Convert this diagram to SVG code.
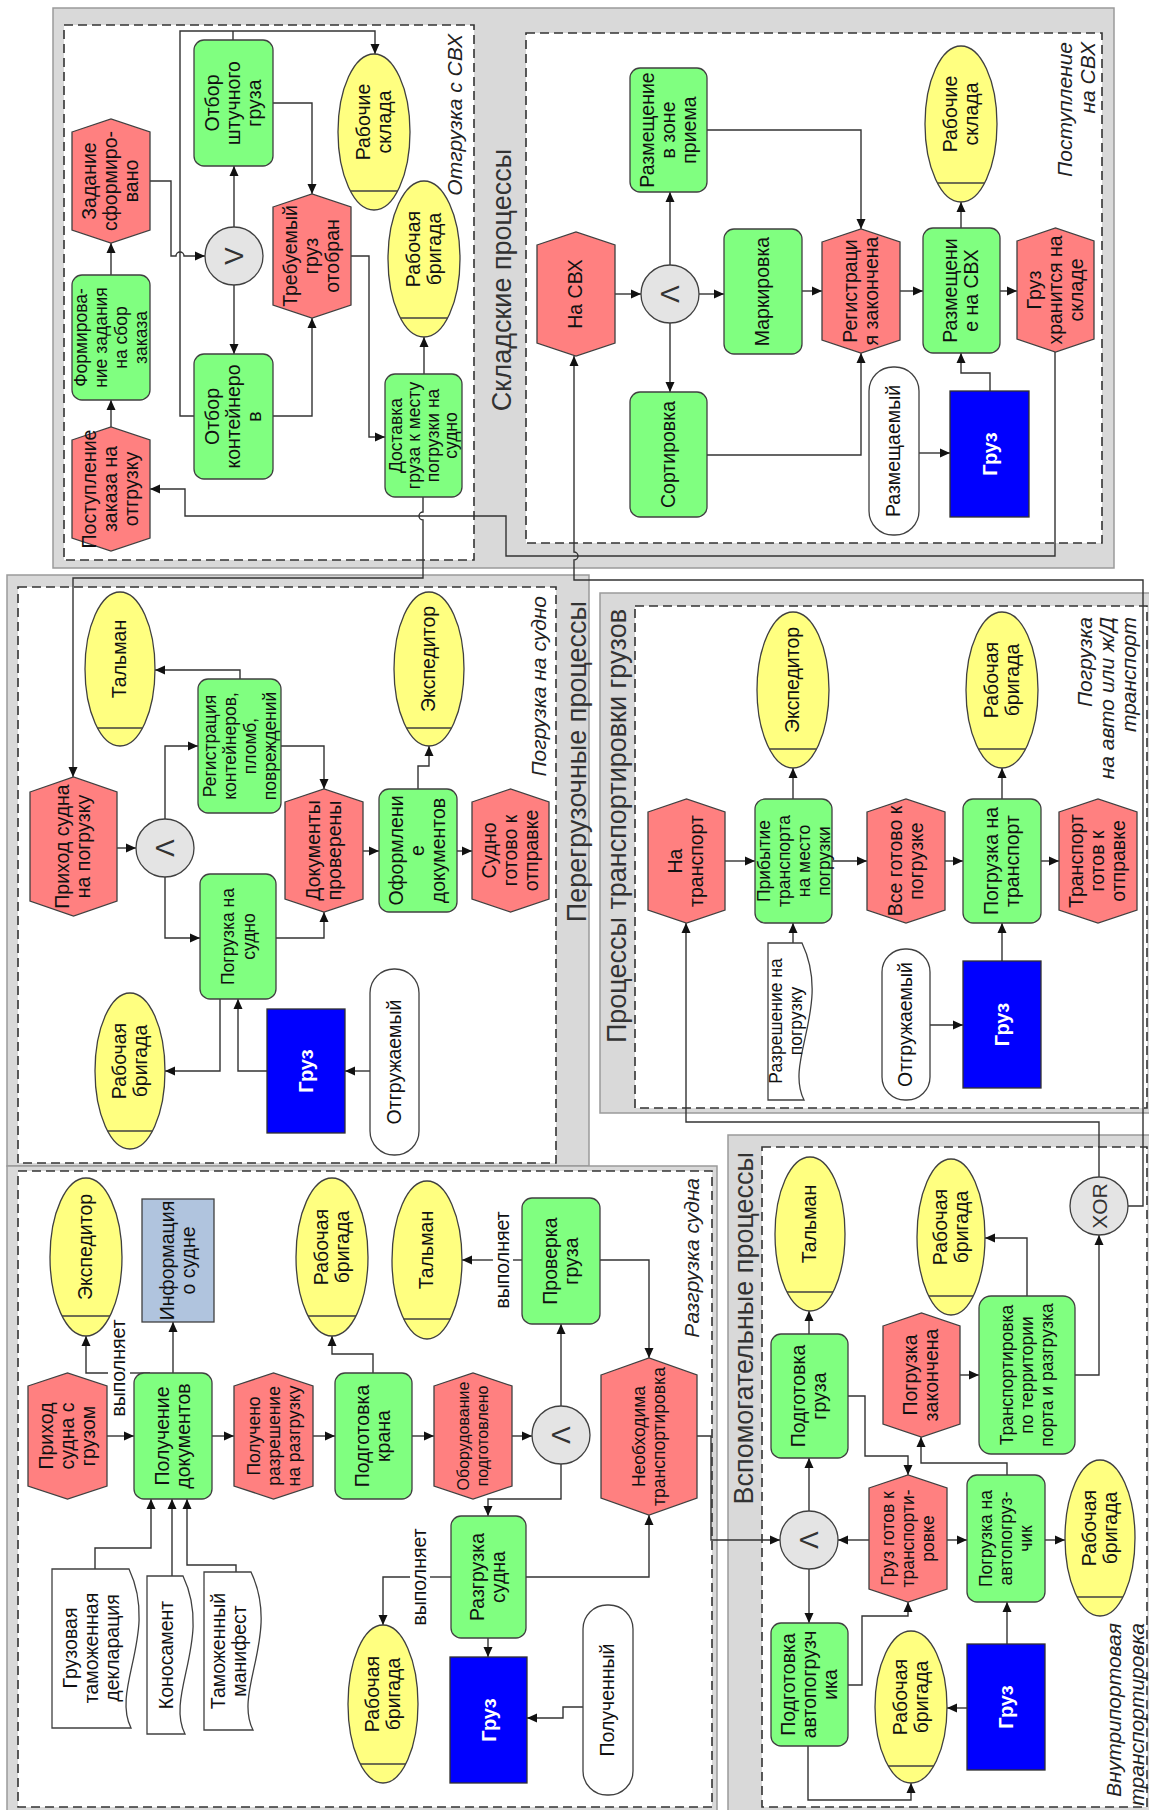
<svg xmlns="http://www.w3.org/2000/svg" width="1149" height="1810" viewBox="0 0 1149 1810">
<defs>
<marker id="a" viewBox="0 0 10 10" refX="10" refY="5" markerWidth="10" markerHeight="10" markerUnits="userSpaceOnUse" orient="auto"><path d="M0,0.5 L10,5 L0,9.5 z" fill="#111"/></marker>
<style>
.pool{fill:#D9D9D9;stroke:#9A9A9A;stroke-width:1.5}
.lane{fill:#fff;stroke:#333;stroke-width:1.6;stroke-dasharray:9 5}
.fn{fill:#80FF80;stroke:#404040;stroke-width:1.3}
.ev{fill:#FF8080;stroke:#404040;stroke-width:1.3}
.org{fill:#FFFF80;stroke:#404040;stroke-width:1.3}
.gate{fill:#E4E4E4;stroke:#404040;stroke-width:1.3}
.cargo{fill:#0000FF;stroke:#303030;stroke-width:1.3}
.info{fill:#B0C4DE;stroke:#404040;stroke-width:1.3}
.doc{fill:#fff;stroke:#404040;stroke-width:1.3}
.term{fill:#fff;stroke:#404040;stroke-width:1.3}
.ln{stroke:#404040;stroke-width:1.3}
.c{fill:none;stroke:#333;stroke-width:1.4}
.ca{fill:none;stroke:#333;stroke-width:1.4;marker-end:url(#a)}
text{font-family:"Liberation Sans",Arial,sans-serif;fill:#111;text-anchor:middle}
.t{font-size:19.5px}
.s{font-size:17.5px}
.xs{font-size:16px}
.w{fill:#fff;font-size:20px;font-weight:bold}
.g{font-size:26px;fill:#333}
.x{font-size:21px;fill:#333}
.title{font-size:27px;fill:#333}
.end{text-anchor:end}
.lab{font-size:21px;font-style:italic;fill:#222;text-anchor:end}
</style>
</defs>

<!-- pools and lanes -->
<g id="pools">
<rect class="pool" x="53" y="8" width="1061" height="560"/>
<rect class="lane" x="64" y="25" width="410" height="535"/>
<rect class="lane" x="526" y="33" width="576" height="510"/>
<text class="title" transform="translate(502,280) rotate(-90)" y="9">Складские процессы</text>
<text class="lab" transform="translate(455,34) rotate(-90)" y="7">Отгрузка с СВХ</text>
<text class="lab" transform="translate(1076,42) rotate(-90)"><tspan x="0" y="-4.5">Поступление</tspan><tspan x="0" y="19">на СВХ</tspan></text>

<rect class="pool" x="7" y="575" width="582" height="591"/>
<rect class="lane" x="18" y="587" width="538" height="576"/>
<text class="title end" transform="translate(577,601) rotate(-90)" y="9">Перегрузочные процессы</text>
<text class="lab" transform="translate(539,596) rotate(-90)" y="7">Погрузка на судно</text>

<rect class="pool" x="600" y="593" width="560" height="520"/>
<rect class="lane" x="635" y="606" width="512" height="502"/>
<text class="title end" transform="translate(617,609) rotate(-90)" y="9">Процессы транспортировки грузов</text>
<text class="lab" transform="translate(1107,617) rotate(-90)"><tspan x="0" y="-15">Погрузка</tspan><tspan x="0" y="7">на авто или ж/Д</tspan><tspan x="0" y="29">транспорт</tspan></text>

<rect class="pool" x="7" y="1166" width="710" height="655"/>
<rect class="lane" x="18" y="1171" width="694" height="636"/>
<text class="lab" transform="translate(692,1178) rotate(-90)" y="7">Разгрузка судна</text>

<rect class="pool" x="728" y="1135" width="432" height="690"/>
<rect class="lane" x="762" y="1147" width="385" height="660"/>
<text class="title end" transform="translate(744,1152) rotate(-90)" y="9">Вспомогательные процессы</text>
<text class="lab" transform="translate(1125,1623) rotate(-90)"><tspan x="0" y="-4.5">Внутрипортовая</tspan><tspan x="0" y="19">транспортировка</tspan></text>
</g>

<!-- connectors -->
<g id="connectors">
<path class="ca" d="M111,427 V400"/>
<path class="ca" d="M111,275 V243"/>
<path class="ca" d="M150,181 H171 V256 H176 A4,4 0 0 1 184,256 H205"/>
<path class="ca" d="M194,416 H180 V31 H375 V54"/>
<path class="c" d="M233,40 V31"/>
<path class="ca" d="M234,227 V166"/>
<path class="ca" d="M234,285 V354"/>
<path class="ca" d="M273,103 H312 V194"/>
<path class="ca" d="M273,416 H312 V318"/>
<path class="ca" d="M351,256 H369 V437 H385"/>
<path class="ca" d="M424,374 V337"/>
<path class="ca" d="M423,497 V512 A4,4 0 0 0 423,520 V578 H73 V777"/>
<path class="ca" d="M1055,352 V556 H506 V516 H185 V489 H150"/>
<path class="ca" d="M1128,1206 H1143 V580 H574 V560 A4,4 0 0 0 574,552 V356"/>
<path class="ca" d="M615,294 H641"/>
<path class="ca" d="M670,265 V192"/>
<path class="ca" d="M670,323 V392"/>
<path class="ca" d="M699,294 H724"/>
<path class="ca" d="M802,291 H822"/>
<path class="ca" d="M707,130 H861 V229"/>
<path class="ca" d="M707,455 H861 V353"/>
<path class="ca" d="M900,291 H923"/>
<path class="ca" d="M961,228 V202"/>
<path class="ca" d="M1000,291 H1017"/>
<path class="ca" d="M990,391 V373 H961 V353"/>
<path class="ca" d="M919,453 H950"/>

<path class="ca" d="M117,848 H136"/>
<path class="ca" d="M165,819 V746 H198"/>
<path class="ca" d="M165,877 V938 H200"/>
<path class="ca" d="M281,746 H324 V789"/>
<path class="ca" d="M276,938 H324 V912"/>
<path class="ca" d="M240,679 V670 H155"/>
<path class="ca" d="M363,851 H379"/>
<path class="ca" d="M457,851 H472"/>
<path class="ca" d="M418,789 V766 H429 V746"/>
<path class="ca" d="M220,999 V1071 H165"/>
<path class="ca" d="M267,1071 H238 V999"/>
<path class="ca" d="M370,1071 H345"/>

<path class="ca" d="M725,861 H755"/>
<path class="ca" d="M832,861 H867"/>
<path class="ca" d="M945,861 H963"/>
<path class="ca" d="M1041,861 H1059"/>
<path class="ca" d="M793,799 V768"/>
<path class="ca" d="M1002,799 V768"/>
<path class="ca" d="M793,943 V923"/>
<path class="ca" d="M1002,961 V923"/>
<path class="ca" d="M930,1025 H963"/>
<path class="ca" d="M1099,1177 V1122 H686 V923"/>

<path class="ca" d="M107,1436 H134"/>
<path class="ca" d="M212,1436 H234"/>
<path class="ca" d="M313,1436 H335"/>
<path class="ca" d="M412,1436 H434"/>
<path class="ca" d="M512,1436 H532"/>
<path class="ca" d="M173,1373 V1322"/>
<path class="c" d="M150,1373 H130"/>
<path class="ca" d="M108,1373 H86 V1336"/>
<path class="ca" d="M373,1373 V1354 H332 V1336"/>
<path class="ca" d="M561,1406 V1324"/>
<path class="c" d="M522,1260 H513"/>
<path class="ca" d="M493,1260 H462"/>
<path class="ca" d="M561,1464 V1499 H488 V1516"/>
<path class="ca" d="M488,1638 V1657"/>
<path class="c" d="M451,1577 H430"/>
<path class="ca" d="M410,1577 H383 V1625"/>
<path class="ca" d="M95,1569 V1548 H151 V1499"/>
<path class="ca" d="M172,1576 V1499"/>
<path class="ca" d="M236,1572 V1565 H187 V1499"/>
<path class="ca" d="M583,1707 H563 V1718 H527"/>
<path class="ca" d="M600,1260 H649 V1358"/>
<path class="ca" d="M526,1577 H649 V1515"/>
<path class="ca" d="M697,1436 H711 V1540 H780"/>

<path class="ca" d="M809,1511 V1458"/>
<path class="ca" d="M809,1334 V1311"/>
<path class="ca" d="M809,1569 V1623"/>
<path class="ca" d="M869,1540 H838"/>
<path class="ca" d="M848,1396 H865 V1456 H908 V1475"/>
<path class="ca" d="M848,1685 H862 V1616 H908 V1602"/>
<path class="ca" d="M808,1746 V1800 H911 V1783"/>
<path class="ca" d="M947,1540 H967"/>
<path class="ca" d="M1045,1540 H1065"/>
<path class="ca" d="M1007,1475 V1463 H921 V1437"/>
<path class="ca" d="M960,1375 H979"/>
<path class="ca" d="M1027,1296 V1238 H985"/>
<path class="ca" d="M1075,1375 H1099 V1235"/>
<path class="ca" d="M1007,1644 V1602"/>
<path class="ca" d="M967,1708 H947"/>
</g>

<!-- labels on connectors -->
<g id="edge-labels">
<text class="t" transform="translate(119,1368) rotate(-90)" y="6">выполняет</text>
<text class="t" transform="translate(503,1260) rotate(-90)" y="6">выполняет</text>
<text class="t" transform="translate(420,1577) rotate(-90)" y="6">выполняет</text>
</g>

<!-- ===== Складские процессы ===== -->
<g id="n-postuplenie-zakaza"><polygon class="ev" points="72,440 111,427 150,440 150,538 111,551 72,538"/><text class="t" transform="translate(111,489) rotate(-90)"><tspan x="0" y="-15">Поступление</tspan><tspan x="0" y="6">заказа на</tspan><tspan x="0" y="27">отгрузку</tspan></text></g>
<g id="n-formirovanie"><rect class="fn" x="72" y="275" width="78" height="125" rx="10"/><text class="s" transform="translate(111,337.5) rotate(-90)"><tspan x="0" y="-24">Формирова-</tspan><tspan x="0" y="-4">ние задания</tspan><tspan x="0" y="16">на сбор</tspan><tspan x="0" y="36">заказа</tspan></text></g>
<g id="n-zadanie"><polygon class="ev" points="72,132 111,119 150,132 150,230 111,243 72,230"/><text class="t" transform="translate(111,181) rotate(-90)"><tspan x="0" y="-15">Задание</tspan><tspan x="0" y="6">сформиро-</tspan><tspan x="0" y="27">вано</tspan></text></g>
<g id="n-otbor-sht"><rect class="fn" x="194" y="40" width="79" height="126" rx="10"/><text class="t" transform="translate(233.5,103) rotate(-90)"><tspan x="0" y="-15">Отбор</tspan><tspan x="0" y="6">штучного</tspan><tspan x="0" y="27">груза</tspan></text></g>
<g id="n-or1"><circle class="gate" cx="234" cy="256" r="29"/><text class="g" transform="translate(234,256) rotate(-90)" y="9">V</text></g>
<g id="n-otbor-kont"><rect class="fn" x="194" y="354" width="79" height="125" rx="10"/><text class="t" transform="translate(233.5,416.5) rotate(-90)"><tspan x="0" y="-15">Отбор</tspan><tspan x="0" y="6">контейнеро</tspan><tspan x="0" y="27">в</tspan></text></g>
<g id="n-trebuemy"><polygon class="ev" points="273,207 312,194 351,207 351,305 312,318 273,305"/><text class="t" transform="translate(312,256) rotate(-90)"><tspan x="0" y="-15">Требуемый</tspan><tspan x="0" y="6">груз</tspan><tspan x="0" y="27">отобран</tspan></text></g>
<g id="n-rab-sklada1"><ellipse class="org" cx="374" cy="132" rx="36" ry="78"/><line class="ln" x1="350.5" y1="191" x2="397.5" y2="191"/><text class="t" transform="translate(374,122) rotate(-90)"><tspan x="0" y="-4.5">Рабочие</tspan><tspan x="0" y="16.5">склада</tspan></text></g>
<g id="n-brigada1"><ellipse class="org" cx="424" cy="259" rx="36" ry="78"/><line class="ln" x1="400.5" y1="318" x2="447.5" y2="318"/><text class="t" transform="translate(424,249) rotate(-90)"><tspan x="0" y="-4.5">Рабочая</tspan><tspan x="0" y="16.5">бригада</tspan></text></g>
<g id="n-dostavka"><rect class="fn" x="385" y="374" width="77" height="123" rx="10"/><text class="s" transform="translate(423.5,435.5) rotate(-90)"><tspan x="0" y="-22">Доставка</tspan><tspan x="0" y="-3.5">груза к месту</tspan><tspan x="0" y="15">погрузки на</tspan><tspan x="0" y="33.5">судно</tspan></text></g>

<g id="n-na-svh"><polygon class="ev" points="537,245 576,232 615,245 615,343 576,356 537,343"/><text class="t" transform="translate(576,294) rotate(-90)" y="6">На СВХ</text></g>
<g id="n-and1"><circle class="gate" cx="670" cy="294" r="29"/><text class="g" transform="translate(670,294) rotate(-90)" y="9">Λ</text></g>
<g id="n-razm-zona"><rect class="fn" x="630" y="68" width="77" height="124" rx="10"/><text class="t" transform="translate(668.5,130) rotate(-90)"><tspan x="0" y="-15">Размещение</tspan><tspan x="0" y="6">в зоне</tspan><tspan x="0" y="27">приема</tspan></text></g>
<g id="n-sortirovka"><rect class="fn" x="630" y="392" width="77" height="125" rx="10"/><text class="t" transform="translate(668.5,454.5) rotate(-90)" y="6">Сортировка</text></g>
<g id="n-markirovka"><rect class="fn" x="724" y="229" width="78" height="125" rx="10"/><text class="t" transform="translate(763,291.5) rotate(-90)" y="6">Маркировка</text></g>
<g id="n-registr-zak"><polygon class="ev" points="822,242 861,229 900,242 900,340 861,353 822,340"/><text class="t" transform="translate(861,291) rotate(-90)"><tspan x="0" y="-4.5">Регистраци</tspan><tspan x="0" y="16.5">я закончена</tspan></text></g>
<g id="n-razm-svh"><rect class="fn" x="923" y="228" width="77" height="125" rx="10"/><text class="t" transform="translate(961.5,290.5) rotate(-90)"><tspan x="0" y="-4.5">Размещени</tspan><tspan x="0" y="16.5">е на СВХ</tspan></text></g>
<g id="n-rab-sklada2"><ellipse class="org" cx="961" cy="124" rx="36" ry="78"/><line class="ln" x1="937.5" y1="183" x2="984.5" y2="183"/><text class="t" transform="translate(961,114) rotate(-90)"><tspan x="0" y="-4.5">Рабочие</tspan><tspan x="0" y="16.5">склада</tspan></text></g>
<g id="n-gruz-hranitsya"><polygon class="ev" points="1017,241 1055.5,228 1094,241 1094,339 1055.5,352 1017,339"/><text class="t" transform="translate(1055.5,290) rotate(-90)"><tspan x="0" y="-15">Груз</tspan><tspan x="0" y="6">хранится на</tspan><tspan x="0" y="27">складе</tspan></text></g>
<g id="n-razmeschaemy"><rect class="term" x="869" y="367" width="50" height="168" rx="24"/><text class="t" transform="translate(894,451) rotate(-90)" y="6">Размещаемый</text></g>
<g id="n-gruz1"><rect class="cargo" x="950" y="391" width="79" height="126"/><text class="w" transform="translate(989.5,454) rotate(-90)" y="7">Груз</text></g>

<!-- ===== Погрузка на судно ===== -->
<g id="n-prihod-pogr"><polygon class="ev" points="30,792 73.5,777 117,792 117,901 73.5,916 30,901"/><text class="t" transform="translate(73.5,846.5) rotate(-90)"><tspan x="0" y="-4.5">Приход судна</tspan><tspan x="0" y="16.5">на погрузку</tspan></text></g>
<g id="n-and2"><circle class="gate" cx="165" cy="848" r="29"/><text class="g" transform="translate(165,848) rotate(-90)" y="9">Λ</text></g>
<g id="n-registr-kont"><rect class="fn" x="198" y="679" width="83" height="134" rx="10"/><text class="s" transform="translate(239.5,746) rotate(-90)"><tspan x="0" y="-24">Регистрация</tspan><tspan x="0" y="-4">контейнеров,</tspan><tspan x="0" y="16">пломб,</tspan><tspan x="0" y="36">повреждений</tspan></text></g>
<g id="n-pogruzka-sudno"><rect class="fn" x="200" y="874" width="76" height="125" rx="10"/><text class="s" transform="translate(238,936.5) rotate(-90)"><tspan x="0" y="-4.5">Погрузка на</tspan><tspan x="0" y="16.5">судно</tspan></text></g>
<g id="n-dokumenty-prov"><polygon class="ev" points="285,802 324,789 363,802 363,899 324,912 285,899"/><text class="t" transform="translate(324,850.5) rotate(-90)"><tspan x="0" y="-4.5">Документы</tspan><tspan x="0" y="16.5">проверены</tspan></text></g>
<g id="n-oformlenie"><rect class="fn" x="379" y="789" width="78" height="123" rx="10"/><text class="t" transform="translate(418,850.5) rotate(-90)"><tspan x="0" y="-15">Оформлени</tspan><tspan x="0" y="6">е</tspan><tspan x="0" y="27">документов</tspan></text></g>
<g id="n-sudno-gotovo"><polygon class="ev" points="472,802 510.5,789 549,802 549,899 510.5,912 472,899"/><text class="t" transform="translate(510.5,850.5) rotate(-90)"><tspan x="0" y="-15">Судно</tspan><tspan x="0" y="6">готово к</tspan><tspan x="0" y="27">отправке</tspan></text></g>
<g id="n-talman1"><ellipse class="org" cx="120" cy="669" rx="35" ry="77"/><line class="ln" x1="97.5" y1="728" x2="142.5" y2="728"/><text class="t" transform="translate(120,659) rotate(-90)" y="6">Тальман</text></g>
<g id="n-ekspeditor1"><ellipse class="org" cx="429" cy="669" rx="35" ry="77"/><line class="ln" x1="406.5" y1="728" x2="451.5" y2="728"/><text class="t" transform="translate(429,659) rotate(-90)" y="6">Экспедитор</text></g>
<g id="n-brigada2"><ellipse class="org" cx="130" cy="1071" rx="35" ry="78"/><line class="ln" x1="107.6" y1="1131" x2="152.4" y2="1131"/><text class="t" transform="translate(130,1061) rotate(-90)"><tspan x="0" y="-4.5">Рабочая</tspan><tspan x="0" y="16.5">бригада</tspan></text></g>
<g id="n-gruz2"><rect class="cargo" x="267" y="1009" width="78" height="124"/><text class="w" transform="translate(306,1071) rotate(-90)" y="7">Груз</text></g>
<g id="n-otgruzhaemy1"><rect class="term" x="370" y="969" width="49" height="186" rx="24"/><text class="t" transform="translate(394.5,1062) rotate(-90)" y="6">Отгружаемый</text></g>

<!-- ===== Процессы транспортировки грузов ===== -->
<g id="n-na-transport"><polygon class="ev" points="648,812 686.5,799 725,812 725,910 686.5,923 648,910"/><text class="t" transform="translate(686.5,861) rotate(-90)"><tspan x="0" y="-4.5">На</tspan><tspan x="0" y="16.5">транспорт</tspan></text></g>
<g id="n-pribytie"><rect class="fn" x="755" y="799" width="77" height="124" rx="10"/><text class="s" transform="translate(793.5,861) rotate(-90)"><tspan x="0" y="-24">Прибытие</tspan><tspan x="0" y="-4">транспорта</tspan><tspan x="0" y="16">на место</tspan><tspan x="0" y="36">погрузки</tspan></text></g>
<g id="n-vse-gotovo"><polygon class="ev" points="867,812 906,799 945,812 945,910 906,923 867,910"/><text class="t" transform="translate(906,861) rotate(-90)"><tspan x="0" y="-4.5">Все готово к</tspan><tspan x="0" y="16.5">погрузке</tspan></text></g>
<g id="n-pogruzka-transport"><rect class="fn" x="963" y="799" width="78" height="124" rx="10"/><text class="t" transform="translate(1002,861) rotate(-90)"><tspan x="0" y="-4.5">Погрузка на</tspan><tspan x="0" y="16.5">транспорт</tspan></text></g>
<g id="n-transport-gotov"><polygon class="ev" points="1059,812 1098,799 1137,812 1137,910 1098,923 1059,910"/><text class="t" transform="translate(1098,861) rotate(-90)"><tspan x="0" y="-15">Транспорт</tspan><tspan x="0" y="6">готов к</tspan><tspan x="0" y="27">отправке</tspan></text></g>
<g id="n-ekspeditor2"><ellipse class="org" cx="793" cy="690" rx="36" ry="78"/><line class="ln" x1="769.5" y1="749" x2="816.5" y2="749"/><text class="t" transform="translate(793,680) rotate(-90)" y="6">Экспедитор</text></g>
<g id="n-brigada3"><ellipse class="org" cx="1002" cy="690" rx="36" ry="78"/><line class="ln" x1="978.5" y1="749" x2="1025.5" y2="749"/><text class="t" transform="translate(1002,680) rotate(-90)"><tspan x="0" y="-4.5">Рабочая</tspan><tspan x="0" y="16.5">бригада</tspan></text></g>
<g id="n-razreshenie"><path class="doc" d="M768,943 H802 C832,1006 784,1061 804,1100 H768 Z"/><text class="s" transform="translate(786,1021) rotate(-90)"><tspan x="0" y="-4.5">Разрешение на</tspan><tspan x="0" y="15.5">погрузку</tspan></text></g>
<g id="n-otgruzhaemy2"><rect class="term" x="882" y="949" width="48" height="151" rx="23"/><text class="t" transform="translate(906,1024.5) rotate(-90)" y="6">Отгружаемый</text></g>
<g id="n-gruz3"><rect class="cargo" x="963" y="961" width="78" height="127"/><text class="w" transform="translate(1002,1024.5) rotate(-90)" y="7">Груз</text></g>

<!-- ===== Разгрузка судна ===== -->
<g id="n-prihod-gruz"><polygon class="ev" points="28,1386 67.5,1373 107,1386 107,1486 67.5,1499 28,1486"/><text class="t" transform="translate(67.5,1436) rotate(-90)"><tspan x="0" y="-15">Приход</tspan><tspan x="0" y="6">судна с</tspan><tspan x="0" y="27">грузом</tspan></text></g>
<g id="n-poluchenie-dok"><rect class="fn" x="134" y="1373" width="78" height="126" rx="10"/><text class="t" transform="translate(173,1436) rotate(-90)"><tspan x="0" y="-4.5">Получение</tspan><tspan x="0" y="16.5">документов</tspan></text></g>
<g id="n-polucheno-razr"><polygon class="ev" points="234,1386 273.5,1373 313,1386 313,1486 273.5,1499 234,1486"/><text class="s" transform="translate(273.5,1436) rotate(-90)"><tspan x="0" y="-14">Получено</tspan><tspan x="0" y="6">разрешение</tspan><tspan x="0" y="26">на разгрузку</tspan></text></g>
<g id="n-podg-krana"><rect class="fn" x="335" y="1373" width="77" height="126" rx="10"/><text class="t" transform="translate(373.5,1436) rotate(-90)"><tspan x="0" y="-4.5">Подготовка</tspan><tspan x="0" y="16.5">крана</tspan></text></g>
<g id="n-oborudovanie"><polygon class="ev" points="434,1386 473,1373 512,1386 512,1486 473,1499 434,1486"/><text class="xs" transform="translate(473,1436) rotate(-90)"><tspan x="0" y="-4">Оборудование</tspan><tspan x="0" y="15">подготовлено</tspan></text></g>
<g id="n-and3"><circle class="gate" cx="561" cy="1435" r="29"/><text class="g" transform="translate(561,1435) rotate(-90)" y="9">Λ</text></g>
<g id="n-ekspeditor3"><ellipse class="org" cx="86" cy="1257" rx="36" ry="79"/><line class="ln" x1="62" y1="1316" x2="110" y2="1316"/><text class="t" transform="translate(86,1247) rotate(-90)" y="6">Экспедитор</text></g>
<g id="n-info-sudno"><rect class="info" x="142" y="1199" width="72" height="123"/><text class="t" transform="translate(178,1260.5) rotate(-90)"><tspan x="0" y="-4.5">Информация</tspan><tspan x="0" y="16.5">о судне</tspan></text></g>
<g id="n-brigada4"><ellipse class="org" cx="332" cy="1257" rx="36" ry="79"/><line class="ln" x1="308" y1="1316" x2="356" y2="1316"/><text class="t" transform="translate(332,1247) rotate(-90)"><tspan x="0" y="-4.5">Рабочая</tspan><tspan x="0" y="16.5">бригада</tspan></text></g>
<g id="n-talman2"><ellipse class="org" cx="427" cy="1260" rx="35" ry="79"/><line class="ln" x1="403.5" y1="1319" x2="450.5" y2="1319"/><text class="t" transform="translate(427,1250) rotate(-90)" y="6">Тальман</text></g>
<g id="n-proverka"><rect class="fn" x="522" y="1198" width="78" height="126" rx="10"/><text class="t" transform="translate(561,1261) rotate(-90)"><tspan x="0" y="-4.5">Проверка</tspan><tspan x="0" y="16.5">груза</tspan></text></g>
<g id="n-deklaratsiya"><path class="doc" d="M52,1569 H129 C159,1633 111,1688 131,1728 H52 Z"/><text class="t" transform="translate(92,1648) rotate(-90)"><tspan x="0" y="-15">Грузовая</tspan><tspan x="0" y="6">таможенная</tspan><tspan x="0" y="27">декларация</tspan></text></g>
<g id="n-konosament"><path class="doc" d="M147,1576 H183 C213,1639 165,1695 185,1734 H147 Z"/><text class="t" transform="translate(167,1655) rotate(-90)" y="6">Коносамент</text></g>
<g id="n-manifest"><path class="doc" d="M204,1572 H251 C281,1635 233,1691 253,1730 H204 Z"/><text class="t" transform="translate(229,1651) rotate(-90)"><tspan x="0" y="-4.5">Таможенный</tspan><tspan x="0" y="16.5">манифест</tspan></text></g>
<g id="n-razgruzka"><rect class="fn" x="451" y="1516" width="75" height="122" rx="10"/><text class="t" transform="translate(488.5,1577) rotate(-90)"><tspan x="0" y="-4.5">Разгрузка</tspan><tspan x="0" y="16.5">судна</tspan></text></g>
<g id="n-gruz4"><rect class="cargo" x="450" y="1657" width="77" height="126"/><text class="w" transform="translate(488.5,1720) rotate(-90)" y="7">Груз</text></g>
<g id="n-brigada5"><ellipse class="org" cx="383" cy="1704" rx="35" ry="79"/><line class="ln" x1="360" y1="1764" x2="406" y2="1764"/><text class="t" transform="translate(383,1694) rotate(-90)"><tspan x="0" y="-4.5">Рабочая</tspan><tspan x="0" y="16.5">бригада</tspan></text></g>
<g id="n-neobhodima"><polygon class="ev" points="601,1375 649,1358 697,1375 697,1498 649,1515 601,1498"/><text class="s" transform="translate(649,1436.5) rotate(-90)"><tspan x="0" y="-4.5">Необходима</tspan><tspan x="0" y="15.5">транспортировка</tspan></text></g>
<g id="n-poluchenny"><rect class="term" x="583" y="1605" width="50" height="190" rx="24"/><text class="t" transform="translate(608,1700) rotate(-90)" y="6">Полученный</text></g>

<!-- ===== Вспомогательные процессы ===== -->
<g id="n-talman3"><ellipse class="org" cx="810" cy="1234" rx="35" ry="77"/><line class="ln" x1="787" y1="1292" x2="833" y2="1292"/><text class="t" transform="translate(810,1224) rotate(-90)" y="6">Тальман</text></g>
<g id="n-podg-gruza"><rect class="fn" x="771" y="1334" width="77" height="124" rx="10"/><text class="t" transform="translate(809.5,1396) rotate(-90)"><tspan x="0" y="-4.5">Подготовка</tspan><tspan x="0" y="16.5">груза</tspan></text></g>
<g id="n-and4"><circle class="gate" cx="809" cy="1540" r="29"/><text class="g" transform="translate(809,1540) rotate(-90)" y="9">Λ</text></g>
<g id="n-podg-avto"><rect class="fn" x="771" y="1623" width="77" height="123" rx="10"/><text class="t" transform="translate(809.5,1684.5) rotate(-90)"><tspan x="0" y="-15">Подготовка</tspan><tspan x="0" y="6">автопогрузч</tspan><tspan x="0" y="27">ика</tspan></text></g>
<g id="n-brigada6"><ellipse class="org" cx="911" cy="1707" rx="36" ry="76"/><line class="ln" x1="888" y1="1766" x2="934" y2="1766"/><text class="t" transform="translate(911,1697) rotate(-90)"><tspan x="0" y="-4.5">Рабочая</tspan><tspan x="0" y="16.5">бригада</tspan></text></g>
<g id="n-pogr-zakonchena"><polygon class="ev" points="883,1326 921.5,1313 960,1326 960,1424 921.5,1437 883,1424"/><text class="t" transform="translate(921.5,1375) rotate(-90)"><tspan x="0" y="-4.5">Погрузка</tspan><tspan x="0" y="16.5">закончена</tspan></text></g>
<g id="n-gruz-gotov"><polygon class="ev" points="869,1488 908,1475 947,1488 947,1589 908,1602 869,1589"/><text class="s" transform="translate(908,1538.5) rotate(-90)"><tspan x="0" y="-14">Груз готов к</tspan><tspan x="0" y="6">транспорти-</tspan><tspan x="0" y="26">ровке</tspan></text></g>
<g id="n-brigada7"><ellipse class="org" cx="951" cy="1237" rx="34" ry="78"/><line class="ln" x1="929" y1="1296" x2="973" y2="1296"/><text class="t" transform="translate(951,1227) rotate(-90)"><tspan x="0" y="-4.5">Рабочая</tspan><tspan x="0" y="16.5">бригада</tspan></text></g>
<g id="n-transportirovka"><rect class="fn" x="979" y="1296" width="96" height="158" rx="12"/><text class="s" transform="translate(1027,1375) rotate(-90)"><tspan x="0" y="-14">Транспортировка</tspan><tspan x="0" y="6">по территории</tspan><tspan x="0" y="26">порта и разгрузка</tspan></text></g>
<g id="n-pogr-avto"><rect class="fn" x="967" y="1475" width="78" height="127" rx="10"/><text class="s" transform="translate(1006,1538.5) rotate(-90)"><tspan x="0" y="-14">Погрузка на</tspan><tspan x="0" y="6">автопогруз-</tspan><tspan x="0" y="26">чик</tspan></text></g>
<g id="n-brigada8"><ellipse class="org" cx="1100" cy="1538" rx="35" ry="78"/><line class="ln" x1="1077" y1="1597" x2="1123" y2="1597"/><text class="t" transform="translate(1100,1528) rotate(-90)"><tspan x="0" y="-4.5">Рабочая</tspan><tspan x="0" y="16.5">бригада</tspan></text></g>
<g id="n-gruz5"><rect class="cargo" x="967" y="1644" width="78" height="126"/><text class="w" transform="translate(1006,1707) rotate(-90)" y="7">Груз</text></g>
<g id="n-xor"><circle class="gate" cx="1099" cy="1206" r="29"/><text class="x" transform="translate(1099,1206) rotate(-90)" y="7.5">XOR</text></g>
</svg>
